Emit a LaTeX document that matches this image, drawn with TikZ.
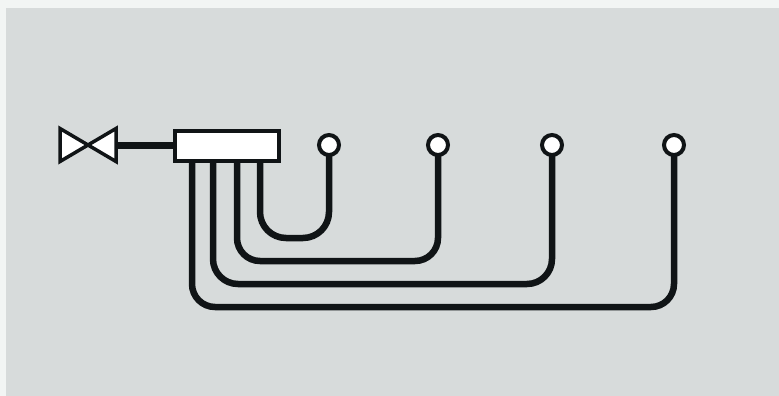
\documentclass[tikz,border=0pt]{standalone}
\definecolor{panel}{HTML}{D7DBDB}
\definecolor{ink}{HTML}{101416}
\definecolor{outside}{HTML}{F2F5F4}
\tikzset{
  pipe/.style={draw=ink,line width=6.5pt},
  tap/.style={circle,draw=ink,fill=white,line width=4pt,minimum size=20pt,inner sep=0pt,outer sep=0pt},
  manifold/.style={rectangle,draw=ink,fill=white,line width=3.5pt,minimum width=104pt,minimum height=30pt,inner sep=0pt,outer sep=0pt},
  valvebox/.style={rectangle,minimum width=56pt,minimum height=33pt,inner sep=0pt,outer sep=0pt},
  valvepart/.style={draw=ink,fill=white,line width=3.5pt,line join=miter}
}
\begin{document}
\begin{tikzpicture}[x=1pt,y=1pt]
\useasboundingbox (0,0) rectangle (779,-396);
\fill[outside] (0,0) rectangle (779,-396);
\fill[panel] (6,-8) rectangle (779,-396);

\node[valvebox] (valve) at (88,-145) {};
\node[manifold] (box) at (227,-146) {};
\node[tap] (t1) at (329,-145) {};
\node[tap] (t2) at (438,-145) {};
\node[tap] (t3) at (552,-145) {};
\node[tap] (t4) at (674,-145) {};

\coordinate (p1) at (260,-161);
\coordinate (p2) at (237,-161);
\coordinate (p3) at (213,-161);
\coordinate (p4) at (192,-161);
\coordinate (b1) at (329,-238);
\coordinate (b2) at (438,-261);
\coordinate (b3) at (552,-284);
\coordinate (b4) at (674,-307);

\draw[pipe,rounded corners=26pt] (p1) |- (b1) -- (t1.south);
\draw[pipe,rounded corners=23pt] (p2) |- (b2) -- (t2.south);
\draw[pipe,rounded corners=25pt] (p3) |- (b3) -- (t3.south);
\draw[pipe,rounded corners=23pt] (p4) |- (b4) -- (t4.south);
\draw[draw=ink,line width=7pt] (valve.east) -- (valve.east -| box.west);

\draw[valvepart] (valve.north west) -- (valve.center) -- (valve.south west) -- cycle;
\draw[valvepart] (valve.north east) -- (valve.center) -- (valve.south east) -- cycle;
\end{tikzpicture}
\end{document}
